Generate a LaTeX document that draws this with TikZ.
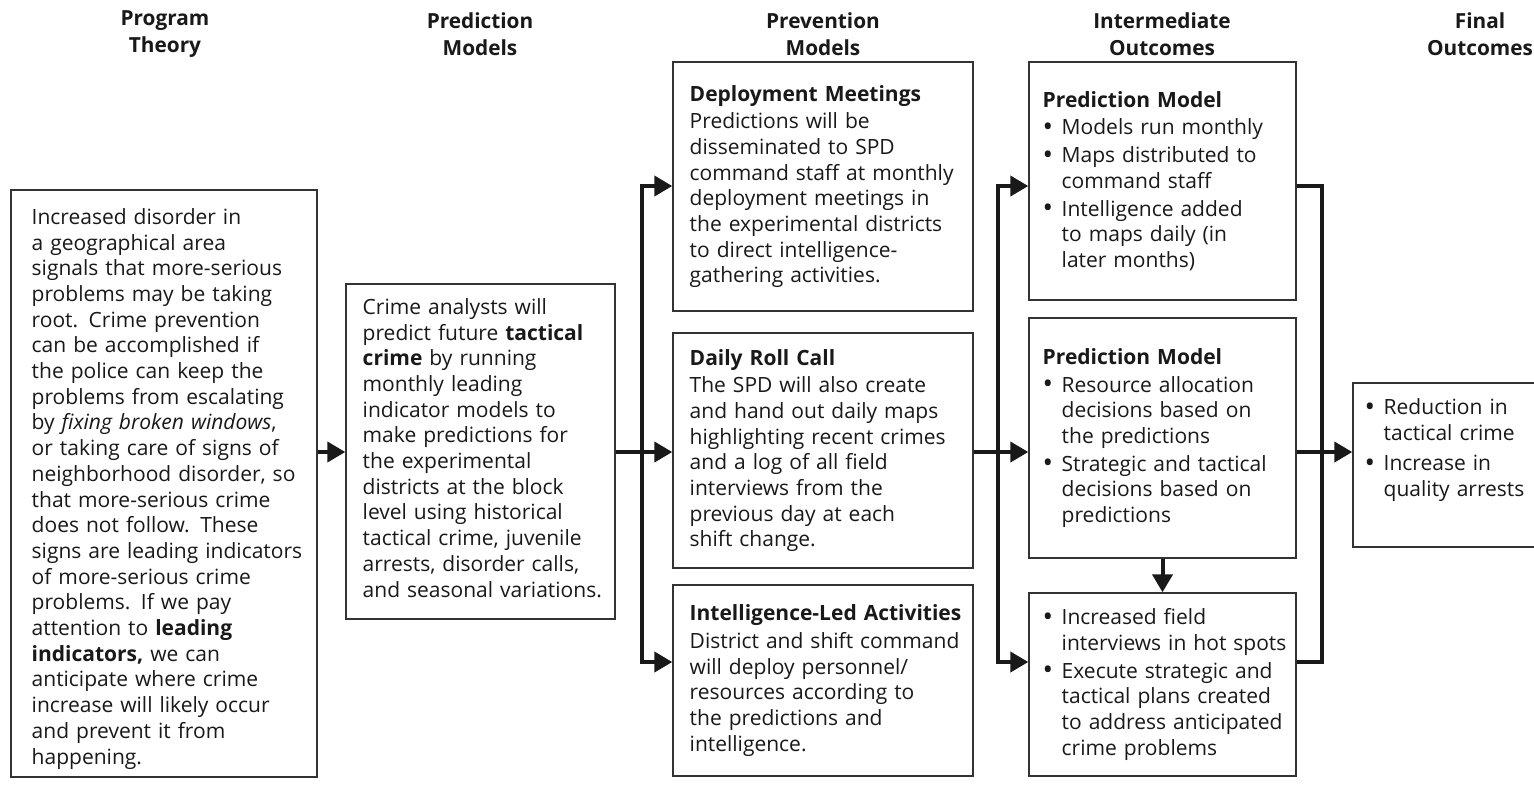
\documentclass[tikz,border=0pt]{standalone}
\usepackage{fontspec}
\usepackage{graphicx}
\setmainfont{Open Sans}
\usetikzlibrary{arrows.meta,fit,calc}
\newcommand\bodyfont{\fontsize{10.5}{12.85}\selectfont}
\newcommand\titlefont{\fontsize{10.4}{13.6}\selectfont\bfseries}
\newcommand\bdot{\raisebox{-0.9pt}{\fontsize{14}{14}\selectfont\textbullet}}
\newcommand\bl[1]{\hangindent=9.5pt\hangafter=1\noindent\makebox[9.5pt][l]{\bdot}#1\par}
\newcommand\igap{\vskip1pt}
\newcommand\fgap{\vskip2.5pt}
\newcommand\mkbox[5]{%
  \coordinate (#1-a) at (#2,#3);
  \coordinate (#1-b) at (#4,#5);
  \node[bx, fit=(#1-a)(#1-b)] (#1) {};}
\tikzset{
  bx/.style={draw=black!80, line width=0.7pt, inner sep=0pt},
  txt/.style={inner sep=0pt, anchor=base west, text=black!90, font=\bodyfont, align=left, text width=170pt},
  ctxt/.style={txt, anchor=west},
  hd/.style={font=\titlefont, align=center, text=black!90, inner sep=0pt},
  conn/.style={line width=2pt, draw=black!90},
  arr/.style={conn, -{Triangle[length=9pt,width=10pt]}},
  arrtwo/.style={conn, {Triangle[length=9pt,width=10pt]}-{Triangle[length=9pt,width=10pt]}},
}
\begin{document}
\begin{tikzpicture}[x=0.5pt,y=-0.5pt]
\useasboundingbox (0,0) rectangle (1534,784);
\fill[white] (0,0) rectangle (1534,784);

% column titles
\node[hd] (h1) at (165,34) {Program\\Theory};
\node[hd] (h2) at (480,34) {Prediction\\Models};
\node[hd] (h3) at (823,34) {Prevention\\Models};
\node[hd] (h4) at (1162,34) {Intermediate\\Outcomes};
\node[hd] (h5) at (1480,34) {Final\\Outcomes};

% boxes
\mkbox{pt}{11}{190}{317}{777}
\mkbox{pm}{346}{284}{615}{619}
\mkbox{pv1}{673}{62}{973}{311}
\mkbox{pv2}{673}{333}{973}{568}
\mkbox{pv3}{673}{585}{973}{776}
\mkbox{in1}{1029}{62}{1296}{300}
\mkbox{in2}{1029}{318}{1296}{558}
\mkbox{in3}{1029}{593}{1296}{776}
\mkbox{fin}{1353}{383}{1640}{547}

% texts
\node[txt] (pt-t) at ([xshift=10.5pt,yshift=-17.5pt]pt.north west) {%
Increased disorder in\\
a geographical area\\
signals that more-serious\\
problems may be taking\\
root. Crime prevention\\
can be accomplished if\\
the police can keep the\\
problems from escalating\\
by \textit{fixing broken windows},\\
or taking care of signs of\\
neighborhood disorder, so\\
that more-serious crime\\
does not follow. These\\
signs are leading indicators\\
of more-serious crime\\
problems. If we pay\\
attention to \textbf{leading}\\
\textbf{indicators,} we can\\
anticipate where crime\\
increase will likely occur\\
and prevent it from\\
happening.};

\node[txt] (pm-t) at ([xshift=8.5pt,yshift=-15.5pt]pm.north west) {%
Crime analysts will\\
predict future \textbf{tactical}\\
\textbf{crime} by running\\
monthly leading\\
indicator models to\\
make predictions for\\
the experimental\\
districts at the block\\
level using historical\\
tactical crime, juvenile\\
arrests, disorder calls,\\
and seasonal variations.};

\node[ctxt] (pv1-t) at ([xshift=8.5pt]pv1.west) {%
\textbf{Deployment Meetings}\par\igap
Predictions will be\\
disseminated to SPD\\
command staff at monthly\\
deployment meetings in\\
the experimental districts\\
to direct intelligence-\\
gathering activities.};

\node[ctxt] (pv2-t) at ([xshift=8.5pt]pv2.west) {%
\textbf{Daily Roll Call}\par\igap
The SPD will also create\\
and hand out daily maps\\
highlighting recent crimes\\
and a log of all field\\
interviews from the\\
previous day at each\\
shift change.};

\node[ctxt] (pv3-t) at ([xshift=8.5pt]pv3.west) {%
\textbf{Intelligence-Led Activities}\par\igap
District and shift command\\
will deploy personnel/\\
resources according to\\
the predictions and\\
intelligence.};

\node[ctxt] (in1-t) at ([xshift=7pt]in1.west) {%
\textbf{Prediction Model}\par\igap
\bl{Models run monthly}\igap
\bl{Maps distributed to\newline command staff}\igap
\bl{Intelligence added\newline to maps daily (in\newline later months)}};

\node[ctxt] (in2-t) at ([xshift=7pt]in2.west) {%
\textbf{Prediction Model}\par\igap
\bl{Resource allocation\newline decisions based on\newline the predictions}\igap
\bl{Strategic and tactical\newline decisions based on\newline predictions}};

\node[ctxt] (in3-t) at ([xshift=7pt]in3.west) {%
\bl{Increased field\newline interviews in hot spots}\igap
\bl{Execute strategic and\newline tactical plans created\newline to address anticipated\newline crime problems}};

\node[txt] (fin-t) at ([xshift=6pt,yshift=-16pt]fin.north west) {%
\bl{Reduction in\newline tactical crime}\fgap
\bl{Increase in\newline quality arrests}};

% connectors
\coordinate (ym) at (0,452);
\coordinate (b1t) at (642,186);
\coordinate (b1b) at (642,662);
\coordinate (b2t) at (998,186);
\coordinate (b2b) at (998,662);
\coordinate (b3t) at (1322,186);
\coordinate (b3b) at (1322,662);

\draw[arr] (pt.east |- ym) -- (pm.west |- ym);
\draw[arr] (pm.east |- ym) -- (pv2.west |- ym);
\draw[arrtwo] (pv1.west |- b1t) -- (b1t) -- (b1b) -- (pv3.west |- b1b);
\draw[arr] (pv2.east |- ym) -- (in2.west |- ym);
\draw[arrtwo] (in1.west |- b2t) -- (b2t) -- (b2b) -- (in3.west |- b2b);
\draw[conn] (in1.east |- b3t) -- (b3t) -- (b3b) -- (in3.east |- b3b);
\draw[arr] (in2.east |- ym) -- (fin.west |- ym);
\draw[arr] (in2.south) -- (in3.north);
\end{tikzpicture}
\end{document}
